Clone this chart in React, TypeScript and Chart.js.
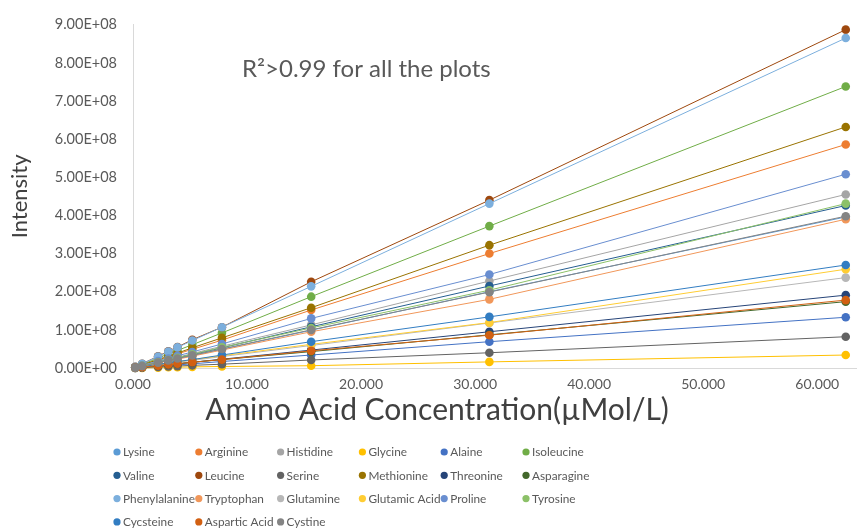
import React, { useEffect, useRef } from "react";
import { Chart, registerables } from "chart.js";
Chart.register(...registerables);

// ---------- DATA ----------
const aminoAcids = [
  "Lysine", "Arginine", "Histidine", "Glycine", "Alaine", "Isoleucine",
  "Valine", "Leucine", "Serine", "Methionine", "Threonine", "Asparagine",
  "Phenylalanine", "Tryptophan", "Glutamine", "Glutamic Acid", "Proline", "Tyrosine",
  "Cycsteine", "Aspartic Acid", "Cystine",
];

const seriesColors = [
  "#5B9BD5", "#ED7D31", "#A5A5A5", "#FFC000", "#4472C4", "#70AD47",
  "#255E91", "#9E480E", "#636363", "#997300", "#264478", "#43682B",
  "#7CAFDD", "#F1975A", "#B7B7B7", "#FFCD33", "#698ED0", "#8CC168",
  "#327DC2", "#D26012", "#848484",
];

// concentrations in µMol/L
const concentrations = [0.2, 0.8, 2.2, 3.1, 3.9, 5.2, 7.8, 15.625, 31.25, 62.5];

// intensities, in units of 1E+08
const lysine = [0.01, 0.05, 0.14, 0.20, 0.25, 0.33, 0.49, 0.99, 2.00, 3.96];
const arginine = [0.02, 0.08, 0.21, 0.29, 0.37, 0.49, 0.73, 1.52, 3.00, 5.86];
const histidine = [0.01, 0.06, 0.16, 0.23, 0.28, 0.38, 0.57, 1.13, 2.28, 4.55];
const glycine = [0.00, 0.00, 0.01, 0.02, 0.02, 0.03, 0.04, 0.06, 0.16, 0.34];
const alaine = [0.00, 0.02, 0.05, 0.07, 0.08, 0.11, 0.17, 0.34, 0.69, 1.33];
const isoleucine = [0.02, 0.09, 0.26, 0.37, 0.46, 0.61, 0.92, 1.87, 3.72, 7.38];
const valine = [0.01, 0.05, 0.15, 0.21, 0.27, 0.35, 0.53, 1.08, 2.15, 4.26];
const leucine = [0.03, 0.11, 0.31, 0.44, 0.55, 0.74, 1.07, 2.26, 4.40, 8.87];
const serine = [0.00, 0.01, 0.03, 0.04, 0.05, 0.07, 0.10, 0.21, 0.40, 0.82];
const methionine = [0.02, 0.08, 0.22, 0.31, 0.39, 0.53, 0.79, 1.58, 3.22, 6.32];
const threonine = [0.01, 0.02, 0.06, 0.09, 0.11, 0.15, 0.23, 0.47, 0.95, 1.91];
const asparagine = [0.01, 0.02, 0.06, 0.09, 0.11, 0.15, 0.22, 0.43, 0.87, 1.74];
const phenylalanine = [0.03, 0.11, 0.30, 0.43, 0.54, 0.72, 1.07, 2.14, 4.31, 8.65];
const tryptophan = [0.01, 0.05, 0.13, 0.19, 0.23, 0.31, 0.47, 0.95, 1.80, 3.90];
const glutamine = [0.01, 0.03, 0.08, 0.12, 0.15, 0.20, 0.30, 0.59, 1.18, 2.37];
const glutamicAcid = [0.01, 0.03, 0.09, 0.13, 0.16, 0.22, 0.32, 0.62, 1.19, 2.59];
const proline = [0.02, 0.07, 0.18, 0.25, 0.32, 0.42, 0.63, 1.30, 2.45, 5.08];
const tyrosine = [0.01, 0.06, 0.15, 0.21, 0.27, 0.36, 0.54, 1.05, 2.04, 4.31];
const cycsteine = [0.01, 0.03, 0.10, 0.13, 0.17, 0.22, 0.34, 0.69, 1.34, 2.70];
const asparticAcid = [0.01, 0.02, 0.06, 0.09, 0.11, 0.15, 0.22, 0.45, 0.86, 1.78];
const cystine = [0.01, 0.05, 0.14, 0.20, 0.25, 0.33, 0.50, 1.00, 1.99, 3.98];

const seriesValues = [
  lysine, arginine, histidine, glycine, alaine, isoleucine,
  valine, leucine, serine, methionine, threonine, asparagine,
  phenylalanine, tryptophan, glutamine, glutamicAcid, proline, tyrosine,
  cycsteine, asparticAcid, cystine,
];

const xTicks = [0, 10, 20, 30, 40, 50, 60];
const yTicks = [0, 1e8, 2e8, 3e8, 4e8, 5e8, 6e8, 7e8, 8e8, 9e8];
const xTitle = "Amino Acid Concentration(\u00B5Mol/L)";
const yTitle = "Intensity";
const note = "R\u00B2>0.99 for all the plots";

// ---------- STYLE ----------
const FONT = "Lato";
const TEXT = "#595959";

const sci = (v: number) => {
  if (v === 0) return "0.00E+00";
  const e = Math.floor(Math.log10(Math.abs(v)) + 1e-9);
  const m = v / Math.pow(10, e);
  return m.toFixed(2) + "E+" + String(e).padStart(2, "0");
};

const decorPlugin = {
  id: "decor",
  afterDraw(chart: any) {
    const ctx = chart.ctx as CanvasRenderingContext2D;
    ctx.save();
    // annotation
    ctx.fillStyle = TEXT;
    ctx.font = `24px ${FONT}`;
    ctx.textAlign = "left";
    ctx.textBaseline = "middle";
    ctx.fillText(note, 242, 69);
    // x axis title
    ctx.fillStyle = "#404040";
    ctx.font = `30px ${FONT}`;
    ctx.textAlign = "center";
    ctx.fillText(xTitle, 437, 410);
    // legend
    const colLeft = 117, colW = 81.8, rowTop = 452, rowH = 23.3;
    ctx.font = `11.8px ${FONT}`;
    ctx.textAlign = "left";
    chart.data.datasets.forEach((ds: any, i: number) => {
      const c = i % 6, r = Math.floor(i / 6);
      const x = colLeft + c * colW, y = rowTop + r * rowH;
      ctx.beginPath();
      ctx.fillStyle = ds.backgroundColor;
      ctx.arc(x, y, 3.6, 0, Math.PI * 2);
      ctx.fill();
      ctx.fillStyle = TEXT;
      ctx.fillText(ds.label, x + 6, y + 0.5);
    });
    ctx.restore();
  },
};

export default function App() {
  const ref = useRef<HTMLCanvasElement>(null);
  useEffect(() => {
    const n = aminoAcids.length;
    const chart = new Chart(ref.current!, {
      type: "scatter",
      data: {
        datasets: aminoAcids.map((name, i) => ({
          label: name,
          data: concentrations.map((c, j) => ({ x: c, y: seriesValues[i][j] * 1e8 })),
          showLine: true,
          borderColor: seriesColors[i],
          backgroundColor: seriesColors[i],
          borderWidth: 1,
          pointRadius: 4.3,
          pointBorderWidth: 0,
          order: n - i,
          clip: false as any,
        })),
      },
      options: {
        responsive: true,
        maintainAspectRatio: false,
        animation: false,
        layout: { padding: { left: 0, right: 6, top: 24, bottom: 102 } },
        plugins: { legend: { display: false }, tooltip: { enabled: false } },
        scales: {
          x: {
            type: "linear",
            min: 0,
            max: 63.4,
            afterBuildTicks: (s: any) => { s.ticks = xTicks.map((v) => ({ value: v })); },
            afterFit: (s: any) => { s.height = 58; },
            grid: { display: false, drawTicks: false },
            border: { display: true, color: "#d9d9d9", width: 1 },
            ticks: {
              padding: 8,
              color: TEXT,
              font: { family: FONT, size: 14 },
              maxRotation: 0,
              callback: (v: any) => Number(v).toFixed(3),
            },
          },
          y: {
            type: "linear",
            min: 0,
            max: 9e8,
            afterBuildTicks: (s: any) => { s.ticks = yTicks.map((v) => ({ value: v })); },
            afterFit: (s: any) => { s.width = 133; },
            grid: { display: false, drawTicks: false },
            border: { display: true, color: "#d9d9d9", width: 1 },
            ticks: {
              padding: 16,
              color: TEXT,
              font: { family: FONT, size: 14.5 },
              callback: (v: any) => sci(Number(v)),
            },
            title: {
              display: true,
              text: yTitle,
              color: "#404040",
              font: { family: FONT, size: 22 },
              padding: { top: 7, bottom: 0 },
            },
          },
        },
      },
      plugins: [decorPlugin],
    });
    return () => chart.destroy();
  }, []);
  return (
    <div style={{ position: "fixed", left: 0, top: 0, width: 862, height: 528, background: "#fff" }}>
      <canvas ref={ref} />
    </div>
  );
}
